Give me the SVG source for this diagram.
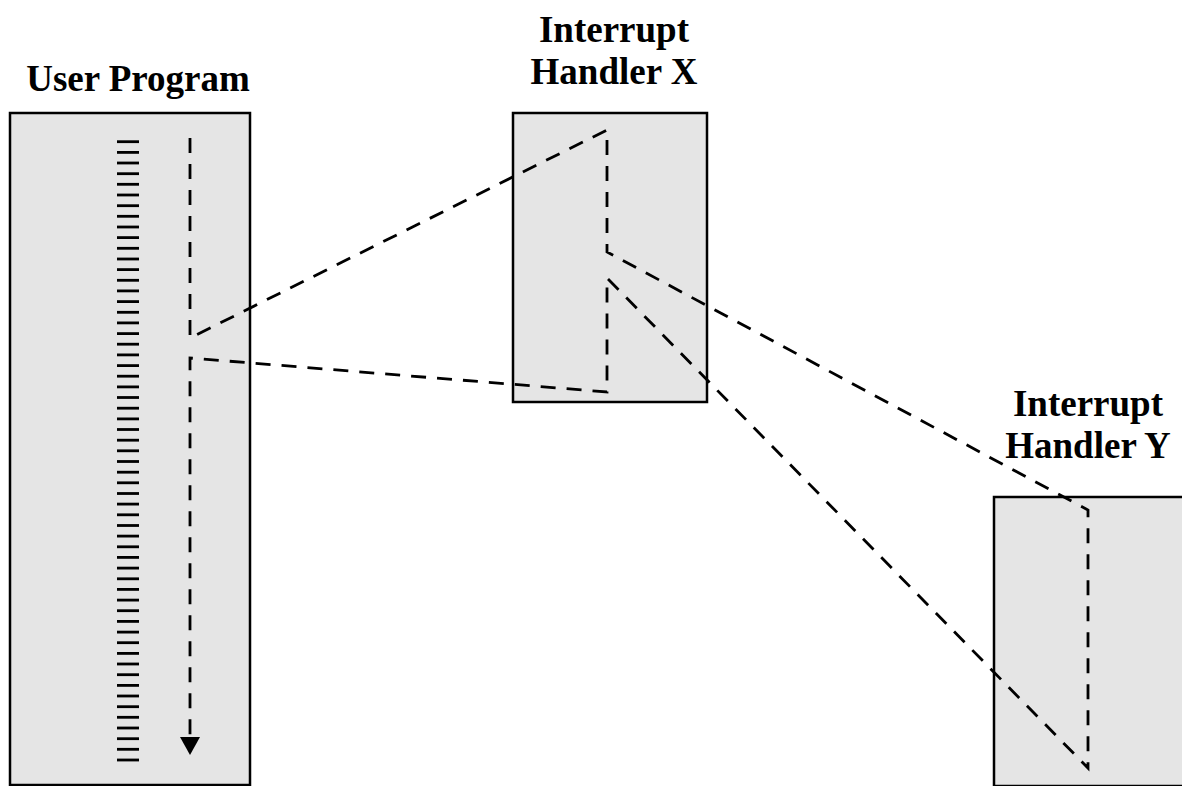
<svg xmlns="http://www.w3.org/2000/svg" width="1182" height="786" viewBox="0 0 1182 786">
<style>
.box{fill:#e5e5e5;stroke:#000;stroke-width:2.5}
.lbl{font-family:"Liberation Serif","Times New Roman",serif;font-weight:bold;font-size:37px;fill:#000;text-anchor:middle}
.flow{fill:none;stroke:#000;stroke-width:2.8;stroke-dasharray:15 11}
.stripe{stroke:#000;stroke-width:2.8}
</style>
<defs>
<marker id="arr" markerUnits="userSpaceOnUse" markerWidth="20" markerHeight="20" refX="0" refY="10" orient="auto">
<path d="M0,0 L18,10 L0,20 z" fill="#000"/>
</marker>
</defs>
<rect width="1182" height="786" fill="#fff"/>
<g id="user-program">
<rect class="box" x="10" y="113" width="240" height="672"/>
<text class="lbl" x="138" y="91">User Program</text>
<g id="stripes" class="stripe">
<line x1="117" x2="139" y1="141.7" y2="141.7"/><line x1="117" x2="139" y1="152.4" y2="152.4"/><line x1="117" x2="139" y1="163.0" y2="163.0"/><line x1="117" x2="139" y1="173.7" y2="173.7"/><line x1="117" x2="139" y1="184.3" y2="184.3"/><line x1="117" x2="139" y1="195.0" y2="195.0"/><line x1="117" x2="139" y1="205.7" y2="205.7"/><line x1="117" x2="139" y1="216.3" y2="216.3"/><line x1="117" x2="139" y1="227.0" y2="227.0"/><line x1="117" x2="139" y1="237.6" y2="237.6"/><line x1="117" x2="139" y1="248.3" y2="248.3"/><line x1="117" x2="139" y1="259.0" y2="259.0"/><line x1="117" x2="139" y1="269.6" y2="269.6"/><line x1="117" x2="139" y1="280.3" y2="280.3"/><line x1="117" x2="139" y1="290.9" y2="290.9"/><line x1="117" x2="139" y1="301.6" y2="301.6"/><line x1="117" x2="139" y1="312.3" y2="312.3"/><line x1="117" x2="139" y1="322.9" y2="322.9"/><line x1="117" x2="139" y1="333.6" y2="333.6"/><line x1="117" x2="139" y1="344.2" y2="344.2"/><line x1="117" x2="139" y1="354.9" y2="354.9"/><line x1="117" x2="139" y1="365.6" y2="365.6"/><line x1="117" x2="139" y1="376.2" y2="376.2"/><line x1="117" x2="139" y1="386.9" y2="386.9"/><line x1="117" x2="139" y1="397.5" y2="397.5"/><line x1="117" x2="139" y1="408.2" y2="408.2"/><line x1="117" x2="139" y1="418.9" y2="418.9"/><line x1="117" x2="139" y1="429.5" y2="429.5"/><line x1="117" x2="139" y1="440.2" y2="440.2"/><line x1="117" x2="139" y1="450.8" y2="450.8"/><line x1="117" x2="139" y1="461.5" y2="461.5"/><line x1="117" x2="139" y1="472.2" y2="472.2"/><line x1="117" x2="139" y1="482.8" y2="482.8"/><line x1="117" x2="139" y1="493.5" y2="493.5"/><line x1="117" x2="139" y1="504.1" y2="504.1"/><line x1="117" x2="139" y1="514.8" y2="514.8"/><line x1="117" x2="139" y1="525.5" y2="525.5"/><line x1="117" x2="139" y1="536.1" y2="536.1"/><line x1="117" x2="139" y1="546.8" y2="546.8"/><line x1="117" x2="139" y1="557.4" y2="557.4"/><line x1="117" x2="139" y1="568.1" y2="568.1"/><line x1="117" x2="139" y1="578.8" y2="578.8"/><line x1="117" x2="139" y1="589.4" y2="589.4"/><line x1="117" x2="139" y1="600.1" y2="600.1"/><line x1="117" x2="139" y1="610.7" y2="610.7"/><line x1="117" x2="139" y1="621.4" y2="621.4"/><line x1="117" x2="139" y1="632.1" y2="632.1"/><line x1="117" x2="139" y1="642.7" y2="642.7"/><line x1="117" x2="139" y1="653.4" y2="653.4"/><line x1="117" x2="139" y1="664.0" y2="664.0"/><line x1="117" x2="139" y1="674.7" y2="674.7"/><line x1="117" x2="139" y1="685.4" y2="685.4"/><line x1="117" x2="139" y1="696.0" y2="696.0"/><line x1="117" x2="139" y1="706.7" y2="706.7"/><line x1="117" x2="139" y1="717.3" y2="717.3"/><line x1="117" x2="139" y1="728.0" y2="728.0"/><line x1="117" x2="139" y1="738.7" y2="738.7"/><line x1="117" x2="139" y1="749.3" y2="749.3"/><line x1="117" x2="139" y1="760.0" y2="760.0"/>
</g>
</g>
<g id="handler-x">
<rect class="box" x="513" y="113" width="194" height="289"/>
<text class="lbl" x="614" y="42">Interrupt</text>
<text class="lbl" x="614" y="84">Handler X</text>
</g>
<g id="handler-y">
<rect class="box" x="994" y="497" width="194" height="289"/>
<text class="lbl" x="1088" y="416">Interrupt</text>
<text class="lbl" x="1088" y="458">Handler Y</text>
</g>
<g id="connectors">
<path class="flow" marker-end="url(#arr)" d="M190,138 L190,338 L607,130 L607,252 L1088,510 L1088,768 L607,278 L607,392 L190,358 L190,737"/>
</g>
</svg>
